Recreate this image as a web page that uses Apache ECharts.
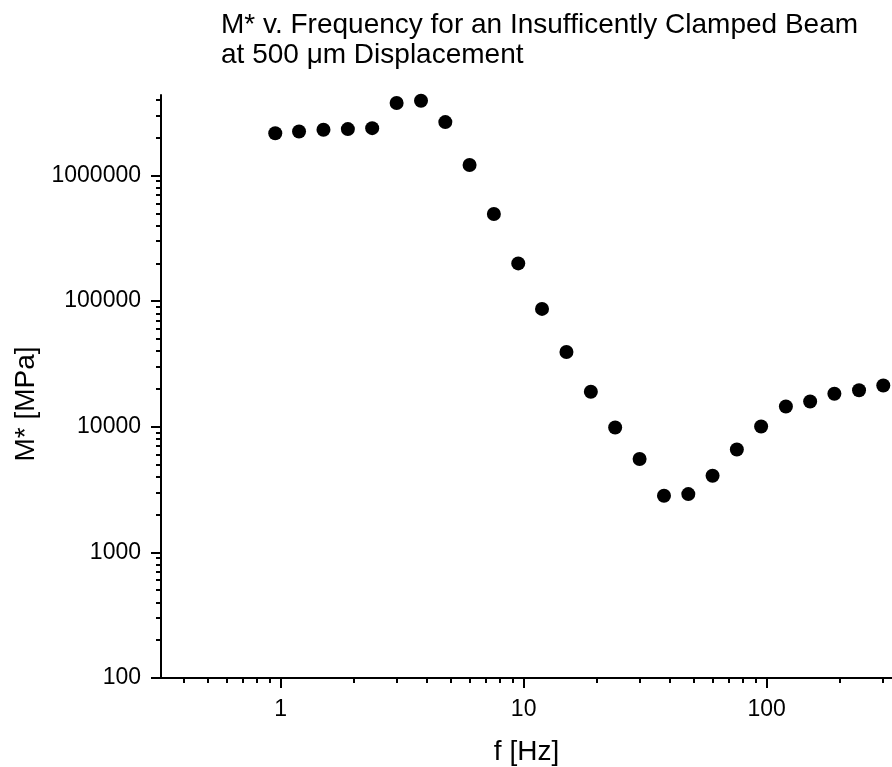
<!DOCTYPE html>
<html>
<head>
<meta charset="utf-8">
<script src="https://cdn.jsdelivr.net/npm/echarts@6/dist/echarts.min.js"></script>
<style>html,body{margin:0;padding:0;background:#fff}#c{width:892px;height:767px}</style>
</head>
<body>
<div id="c"></div>
<script>
var freq = [0.95, 1.19, 1.5, 1.89, 2.38, 3.0, 3.78, 4.76, 5.99, 7.54, 9.5, 11.9, 15.0, 18.9, 23.8, 30.0, 37.8, 47.6, 59.9, 75.4, 94.9, 120, 151, 190, 240, 302];
var modulus = [2170000, 2240000, 2310000, 2340000, 2380000, 3770000, 3930000, 2660000, 1210000, 493000, 199500, 86700, 39300, 19000, 9870, 5530, 2820, 2910, 4070, 6590, 10050, 14500, 15900, 18300, 19500, 21300];
var xMajor = [1, 10, 100];
var xMinor = [0.4, 0.5, 0.6, 0.7, 0.8, 0.9, 2, 3, 4, 5, 6, 7, 8, 9, 20, 30, 40, 50, 60, 70, 80, 90, 200, 300];
var yMajor = [100, 1000, 10000, 100000, 1000000];
var yMinor = [200, 300, 400, 500, 600, 700, 800, 900, 2000, 3000, 4000, 5000, 6000, 7000, 8000, 9000,
  20000, 30000, 40000, 50000, 60000, 70000, 80000, 90000, 200000, 300000, 400000, 500000, 600000, 700000, 800000, 900000,
  2000000, 3000000, 4000000];

var FONT = 'Liberation Sans, Arial, sans-serif';
var xMin = 0.3217, xMax = 328, yMin = 100, yMax = 4370000;
var fmt = function (v) { return String(Math.round(v)); };

var chart = echarts.init(document.getElementById('c'));
chart.setOption({
  animation: false,
  backgroundColor: '#fff',
  title: {
    text: 'M* v. Frequency for an Insufficently Clamped Beam\nat 500 μm Displacement',
    left: 221, top: 10, padding: 0,
    textStyle: { fontFamily: FONT, fontSize: 28, fontWeight: 'normal', color: '#000', lineHeight: 30 }
  },
  grid: { left: 161, right: 0, top: 95, bottom: 89, containLabel: false, outerBoundsMode: 'none' },
  xAxis: [{
    type: 'log', logBase: 10, min: xMin, max: xMax, position: 'bottom',
    name: 'f [Hz]', nameLocation: 'middle', nameGap: 60,
    nameTextStyle: { fontFamily: FONT, fontSize: 28, color: '#000' },
    axisLine: { show: true, lineStyle: { color: '#000', width: 2 } },
    axisTick: { show: true, inside: false, length: 10, lineStyle: { color: '#000', width: 2 }, customValues: xMajor },
    axisLabel: { show: true, margin: 20, fontFamily: FONT, fontSize: 23, color: '#000', customValues: xMajor, formatter: fmt },
    splitLine: { show: false }, minorTick: { show: false }
  }, {
    type: 'log', logBase: 10, min: xMin, max: xMax, position: 'bottom',
    axisLine: { show: false },
    axisTick: { show: true, inside: false, length: 5, lineStyle: { color: '#000', width: 2 }, customValues: xMinor },
    axisLabel: { show: false },
    splitLine: { show: false }
  }],
  yAxis: [{
    type: 'log', logBase: 10, min: yMin, max: yMax, position: 'left',
    axisLine: { show: true, lineStyle: { color: '#000', width: 2 } },
    axisTick: { show: true, inside: false, length: 10, lineStyle: { color: '#000', width: 2 }, customValues: yMajor },
    axisLabel: { show: true, margin: 20, fontFamily: FONT, fontSize: 23, color: '#000', customValues: yMajor, formatter: fmt },
    splitLine: { show: false }
  }, {
    type: 'log', logBase: 10, min: yMin, max: yMax, position: 'left',
    axisLine: { show: false },
    axisTick: { show: true, inside: false, length: 5, lineStyle: { color: '#000', width: 2 }, customValues: yMinor },
    axisLabel: { show: false },
    splitLine: { show: false }
  }],
  graphic: [{
    type: 'text', x: 26, y: 404, rotation: Math.PI / 2,
    style: { text: 'M* [MPa]', fontFamily: FONT, fontSize: 28, fill: '#000', textAlign: 'center', textVerticalAlign: 'middle' }
  }],
  series: [{
    type: 'scatter', xAxisIndex: 0, yAxisIndex: 0,
    symbol: 'circle', symbolSize: 14,
    itemStyle: { color: '#000', opacity: 1 },
    emphasis: { disabled: true },
    data: freq.map(function (f, i) { return [f, modulus[i]]; })
  }]
});
</script>
</body>
</html>
